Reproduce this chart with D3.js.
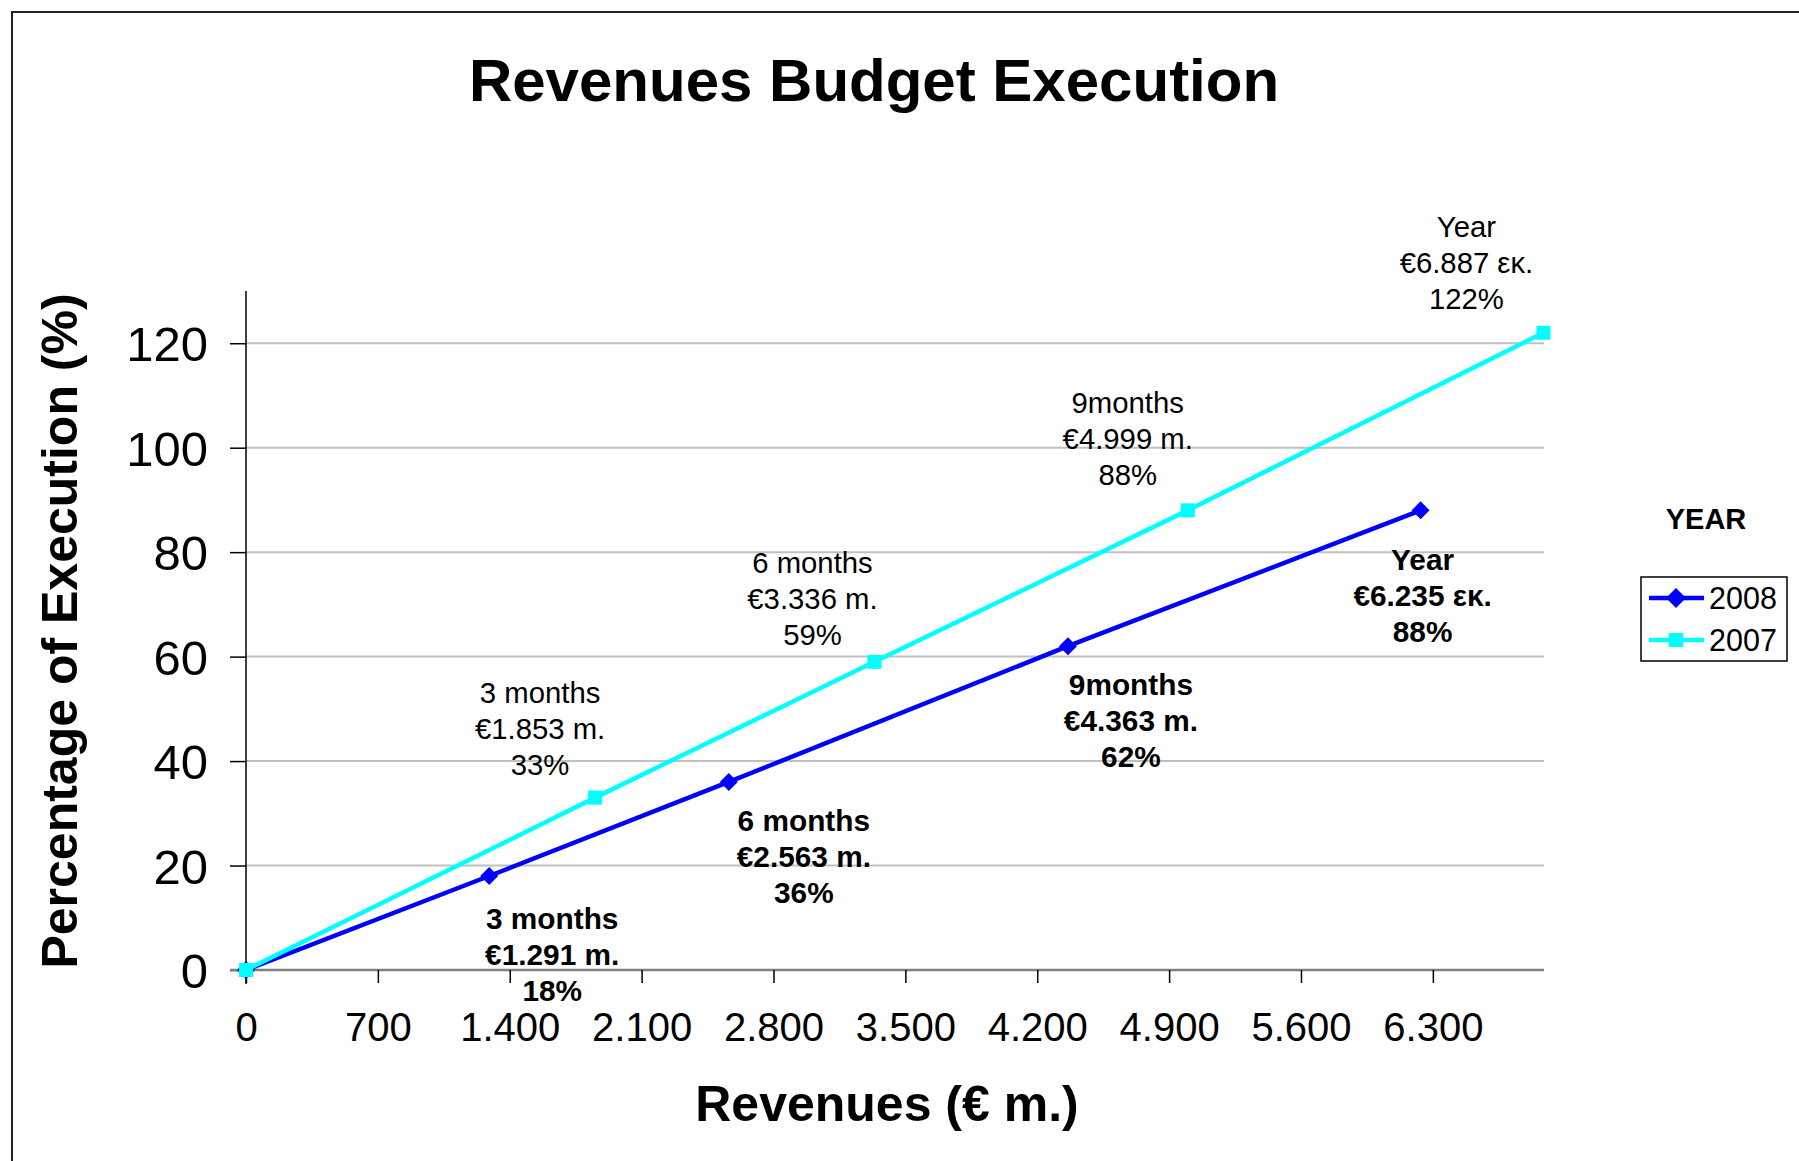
<!DOCTYPE html>
<html>
<head>
<meta charset="utf-8">
<script src="https://cdn.jsdelivr.net/npm/d3@7"></script>
<style>
  body { margin: 0; background: #fff; }
  text { font-family: "Liberation Sans", Arial, sans-serif; }
</style>
</head>
<body>
<svg width="1799" height="1161"></svg>
<script>
// values
var revenues2008 = [0, 1291, 2563, 4363, 6235];
var percent2008  = [0, 18, 36, 62, 88];
var revenues2007 = [0, 1853, 3336, 4999, 6887];
var percent2007  = [0, 33, 59, 88, 122];
var periods      = ["", "3 months", "6 months", "9months", "Year"];
var units        = ["", "m.", "m.", "m.", "εκ."];
var xTicks = [0, 700, 1400, 2100, 2800, 3500, 4200, 4900, 5600, 6300];
var yTicks = [0, 20, 40, 60, 80, 100, 120];
var seriesNames = ["2008", "2007"];

// label nudges (dx, dy of first line) relative to the point
var nudge2007 = [null, [-55, -105], [-62, -99], [-60, -108], [-77, -106]];
var nudge2008 = [null, [63, 42], [75, 38], [63, 38], [2, 49]];

var svg = d3.select('svg');

// frame
svg.append('path')
  .attr('d', 'M12,1161 L12,12 L1799,12')
  .attr('fill', 'none')
  .attr('stroke', '#222')
  .attr('stroke-width', 2);

var x = d3.scaleLinear().domain([0, 6890]).range([246, 1544]);
var y = d3.scaleLinear().domain([0, 130]).range([970, 291]);

// title
svg.append('text')
  .attr('x', 874).attr('y', 80)
  .attr('text-anchor', 'middle').attr('dominant-baseline', 'central')
  .attr('font-size', 60).attr('font-weight', 'bold')
  .text('Revenues Budget Execution');

// grid
svg.append('g').selectAll('line')
  .data(yTicks.filter(function(d){ return d > 0; }))
  .enter().append('line')
  .attr('x1', x(0)).attr('x2', x(6890))
  .attr('y1', function(d){ return y(d); })
  .attr('y2', function(d){ return y(d); })
  .attr('stroke', '#c0c0c0').attr('stroke-width', 2);

// y axis
var yAxis = svg.append('g')
  .attr('transform', 'translate(' + x(0) + ',0)')
  .call(d3.axisLeft(y).tickValues(yTicks).tickSize(16).tickPadding(22));
yAxis.select('.domain').attr('stroke', '#000').attr('stroke-width', 1.5).attr('d', 'M0,' + y(130) + 'V' + (y(0) + 14));
yAxis.selectAll('.tick line').attr('stroke', '#000').attr('stroke-width', 1.5);
yAxis.selectAll('.tick text')
  .attr('font-family', '"Liberation Sans", Arial, sans-serif')
  .attr('font-size', 49).attr('fill', '#000').attr('dy', '0.36em');

// x axis
var xAxis = svg.append('g')
  .attr('transform', 'translate(0,' + y(0) + ')')
  .call(d3.axisBottom(x).tickValues(xTicks).tickSize(13).tickPadding(30)
    .tickFormat(function(d){ return d3.format(',')(d).replace(',', '.'); }));
xAxis.select('.domain').attr('stroke', '#808080').attr('stroke-width', 2.5).attr('d', 'M' + (x(0) - 16) + ',0H' + x(6890));
xAxis.selectAll('.tick line').attr('stroke', '#000').attr('stroke-width', 1.5);
xAxis.selectAll('.tick text')
  .attr('font-family', '"Liberation Sans", Arial, sans-serif')
  .attr('font-size', 40).attr('fill', '#000');

// axis titles
svg.append('text')
  .attr('x', 887).attr('y', 1104)
  .attr('text-anchor', 'middle').attr('dominant-baseline', 'central')
  .attr('font-size', 50).attr('font-weight', 'bold')
  .text('Revenues (€ m.)');

svg.append('text')
  .attr('transform', 'translate(60,631) rotate(-90)')
  .attr('text-anchor', 'middle').attr('dominant-baseline', 'central')
  .attr('font-size', 50).attr('font-weight', 'bold')
  .text('Percentage of Execution (%)');

var line = d3.line()
  .x(function(d){ return x(d[0]); })
  .y(function(d){ return y(d[1]); });

var data2007 = d3.zip(revenues2007, percent2007);
var data2008 = d3.zip(revenues2008, percent2008);

function diamond(cx, cy, r) {
  return 'M' + cx + ',' + (cy - r) + 'L' + (cx + r) + ',' + cy + 'L' + cx + ',' + (cy + r) + 'L' + (cx - r) + ',' + cy + 'Z';
}

// 2008 series
svg.append('path').datum(data2008)
  .attr('d', line).attr('fill', 'none')
  .attr('stroke', '#0000ff').attr('stroke-width', 4.5);
svg.append('g').selectAll('path').data(data2008).enter().append('path')
  .attr('d', function(d){ return diamond(x(d[0]), y(d[1]), 9); })
  .attr('fill', '#0000ff');

// 2007 series
svg.append('path').datum(data2007)
  .attr('d', line).attr('fill', 'none')
  .attr('stroke', '#00ffff').attr('stroke-width', 4.5);
svg.append('g').selectAll('rect').data(data2007).enter().append('rect')
  .attr('x', function(d){ return x(d[0]) - 7; })
  .attr('y', function(d){ return y(d[1]) - 7; })
  .attr('width', 14).attr('height', 14)
  .attr('fill', '#00ffff');

// data labels
function labels(revs, pcts, nudge, bold) {
  revs.forEach(function(r, i) {
    if (i === 0) return;
    var lines = [periods[i], '€' + d3.format('.3f')(r / 1000) + ' ' + units[i], pcts[i] + '%'];
    var t = svg.append('text')
      .attr('text-anchor', 'middle')
      .attr('font-size', bold ? 29.8 : 29.3)
      .attr('font-weight', bold ? 'bold' : 'normal');
    lines.forEach(function(s, k) {
      t.append('tspan')
        .attr('x', x(r) + nudge[i][0])
        .attr('y', y(pcts[i]) + nudge[i][1] + k * 36)
        .attr('dy', '0.36em')
        .text(s);
    });
  });
}
labels(revenues2007, percent2007, nudge2007, false);
labels(revenues2008, percent2008, nudge2008, true);

// legend
svg.append('text')
  .attr('x', 1706).attr('y', 519)
  .attr('text-anchor', 'middle').attr('dominant-baseline', 'central')
  .attr('font-size', 29).attr('font-weight', 'bold')
  .text('YEAR');

svg.append('rect')
  .attr('x', 1641).attr('y', 577).attr('width', 146).attr('height', 84)
  .attr('fill', '#fff').attr('stroke', '#000').attr('stroke-width', 1.5);

var legendColors = ['#0000ff', '#00ffff'];
seriesNames.forEach(function(name, i) {
  var ly = 598 + i * 42;
  svg.append('line')
    .attr('x1', 1649).attr('x2', 1704).attr('y1', ly).attr('y2', ly)
    .attr('stroke', legendColors[i]).attr('stroke-width', 4.5);
  if (i === 0) {
    svg.append('path').attr('d', diamond(1676, ly, 10)).attr('fill', legendColors[i]);
  } else {
    svg.append('rect').attr('x', 1669).attr('y', ly - 7).attr('width', 14).attr('height', 14).attr('fill', legendColors[i]);
  }
  svg.append('text')
    .attr('x', 1709).attr('y', ly)
    .attr('dominant-baseline', 'central')
    .attr('font-size', 30.5)
    .text(name);
});
</script>
</body>
</html>
